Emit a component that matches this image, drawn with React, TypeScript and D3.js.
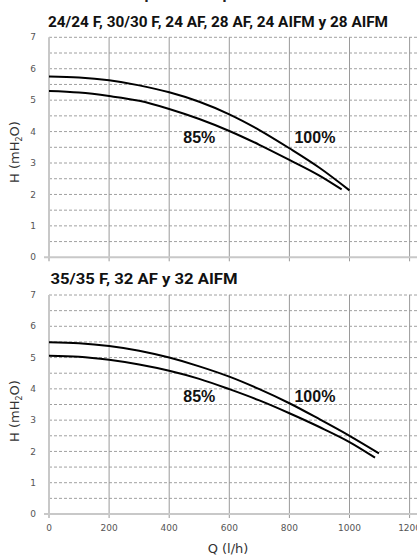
import React from "react";
import * as d3 from "d3";

const W = 417;
const H = 555;

const xTicks = [0, 200, 400, 600, 800, 1000, 1200];
const yTicks = [0, 1, 2, 3, 4, 5, 6, 7];
const yGrid = [0.5, 1, 1.5, 2, 2.5, 3, 3.5, 4, 4.5, 5, 5.5, 6, 6.5, 7];

const topTitle = "24/24 F, 30/30 F, 24 AF, 28 AF, 24 AIFM y 28 AIFM";
const bottomTitle = "35/35 F, 32 AF y 32 AIFM";
const headerText = "Curvas de presión disponible del circulador";

const topQ100 = [0, 100, 200, 300, 400, 500, 600, 700, 800, 900, 1000];
const topH100 = [5.75, 5.72, 5.63, 5.47, 5.25, 4.95, 4.55, 4.05, 3.47, 2.85, 2.13];
const topQ85 = [0, 100, 200, 300, 400, 500, 600, 700, 800, 900, 974];
const topH85 = [5.29, 5.24, 5.13, 4.98, 4.72, 4.4, 4.02, 3.58, 3.1, 2.6, 2.16];

const botQ100 = [0, 100, 200, 300, 400, 500, 600, 700, 800, 900, 1000, 1098];
const botH100 = [5.49, 5.46, 5.37, 5.22, 5.0, 4.72, 4.39, 3.99, 3.54, 3.03, 2.5, 1.94];
const botQ85 = [0, 100, 200, 300, 400, 500, 600, 700, 800, 900, 1000, 1085];
const botH85 = [5.06, 5.03, 4.93, 4.78, 4.58, 4.32, 3.99, 3.63, 3.22, 2.78, 2.3, 1.8];

const labels = ["85%", "100%"];
const labelQ = [500, 885];
const labelH = [3.8, 3.8];
const labelHBot = [3.75, 3.75];

const x = d3.scaleLinear().domain([0, 1200]).range([49, 409.6]);

const tickFont = "'DejaVu Sans', sans-serif";

function Panel({
  y,
  q100,
  h100,
  q85,
  h85,
  lh,
  showX,
}: {
  y: d3.ScaleLinear<number, number>;
  q100: number[];
  h100: number[];
  q85: number[];
  h85: number[];
  lh: number[];
  showX: boolean;
}) {
  const line = d3
    .line<[number, number]>()
    .x((d) => x(d[0]))
    .y((d) => y(d[1]))
    .curve(d3.curveMonotoneX);
  const d100 = line(q100.map((q, i) => [q, h100[i]]));
  const d85 = line(q85.map((q, i) => [q, h85[i]]));
  const y0 = y(0);
  const y7 = y(7);
  return (
    <g>
      {yGrid.map((v) => (
        <line
          key={"g" + v}
          x1={x(0)}
          x2={W}
          y1={y(v)}
          y2={y(v)}
          stroke="#a0a0a0"
          strokeWidth={1}
          strokeDasharray="3,2"
        />
      ))}
      {xTicks.slice(1).map((t) => (
        <line
          key={"v" + t}
          x1={x(t)}
          x2={x(t)}
          y1={y7}
          y2={y0 + 4}
          stroke="#9a9a9a"
          strokeWidth={1}
        />
      ))}
      <line x1={x(0)} x2={x(0)} y1={y7} y2={y0 + 4} stroke="#c8c8c8" strokeWidth={2} />
      <line x1={x(0) - 5} x2={W} y1={y0} y2={y0} stroke="#c8c8c8" strokeWidth={2} />
      {yTicks.map((t) => (
        <text
          key={"yt" + t}
          x={33}
          y={y(t)}
          dy="0.35em"
          textAnchor="middle"
          fontFamily={tickFont}
          fontSize={9}
          fill="#555"
        >
          {t}
        </text>
      ))}
      {showX &&
        xTicks.map((t) => (
          <text
            key={"xt" + t}
            x={x(t)}
            y={y0 + 14}
            dy="0.35em"
            textAnchor="middle"
            fontFamily={tickFont}
            fontSize={9}
            fill="#555"
          >
            {t}
          </text>
        ))}
      <path d={d100 || ""} fill="none" stroke="#000" strokeWidth={2} />
      <path d={d85 || ""} fill="none" stroke="#000" strokeWidth={2} />
      {labels.map((l, i) => (
        <text
          key={l}
          x={x(labelQ[i])}
          y={y(lh[i])}
          dy="0.35em"
          textAnchor="middle"
          fontFamily="'Liberation Sans', Arial, sans-serif"
          fontWeight="bold"
          fontSize={16}
          fill="#111"
        >
          {l}
        </text>
      ))}
    </g>
  );
}

function YTitle({ cy }: { cy: number }) {
  return (
    <text
      transform={`translate(19,${cy}) rotate(-90)`}
      textAnchor="middle"
      fontFamily={tickFont}
      fontSize={13}
      fill="#333"
    >
      H (mH<tspan fontSize={8} dy={3}>2</tspan>
      <tspan dy={-3}>O)</tspan>
    </text>
  );
}

export default function App() {
  const yTop = d3.scaleLinear().domain([0, 7]).range([257.3, 37.3]);
  const yBot = d3.scaleLinear().domain([0, 7]).range([514, 295]);
  return (
    <svg
      width={W}
      height={H}
      style={{ position: "absolute", left: 0, top: 0, background: "#fff" }}
    >
      <rect x={0} y={0} width={W} height={H} fill="#fff" />
      <text
        x={70}
        y={-1.5}
        fontFamily="'Roboto', sans-serif"
        fontWeight="bold"
        fontSize={14}
        fill="#222"
        textLength={305}
        lengthAdjust="spacingAndGlyphs"
      >
        {headerText}
      </text>
      <text
        x={48}
        y={26.5}
        fontFamily="'Roboto', sans-serif"
        fontWeight="bold"
        fontSize={14}
        fill="#111"
        textLength={340}
        lengthAdjust="spacingAndGlyphs"
      >
        {topTitle}
      </text>
      <text
        x={50.5}
        y={284}
        fontFamily="'Roboto', sans-serif"
        fontWeight="bold"
        fontSize={14}
        fill="#111"
        textLength={187}
        lengthAdjust="spacingAndGlyphs"
      >
        {bottomTitle}
      </text>
      <Panel y={yTop} q100={topQ100} h100={topH100} q85={topQ85} h85={topH85} lh={labelH} showX={false} />
      <Panel y={yBot} q100={botQ100} h100={botH100} q85={botQ85} h85={botH85} lh={labelHBot} showX={true} />
      <YTitle cy={152} />
      <YTitle cy={411} />
      <text
        x={228}
        y={553}
        textAnchor="middle"
        fontFamily={tickFont}
        fontSize={13}
        fill="#333"
      >
        Q (l/h)
      </text>
    </svg>
  );
}
